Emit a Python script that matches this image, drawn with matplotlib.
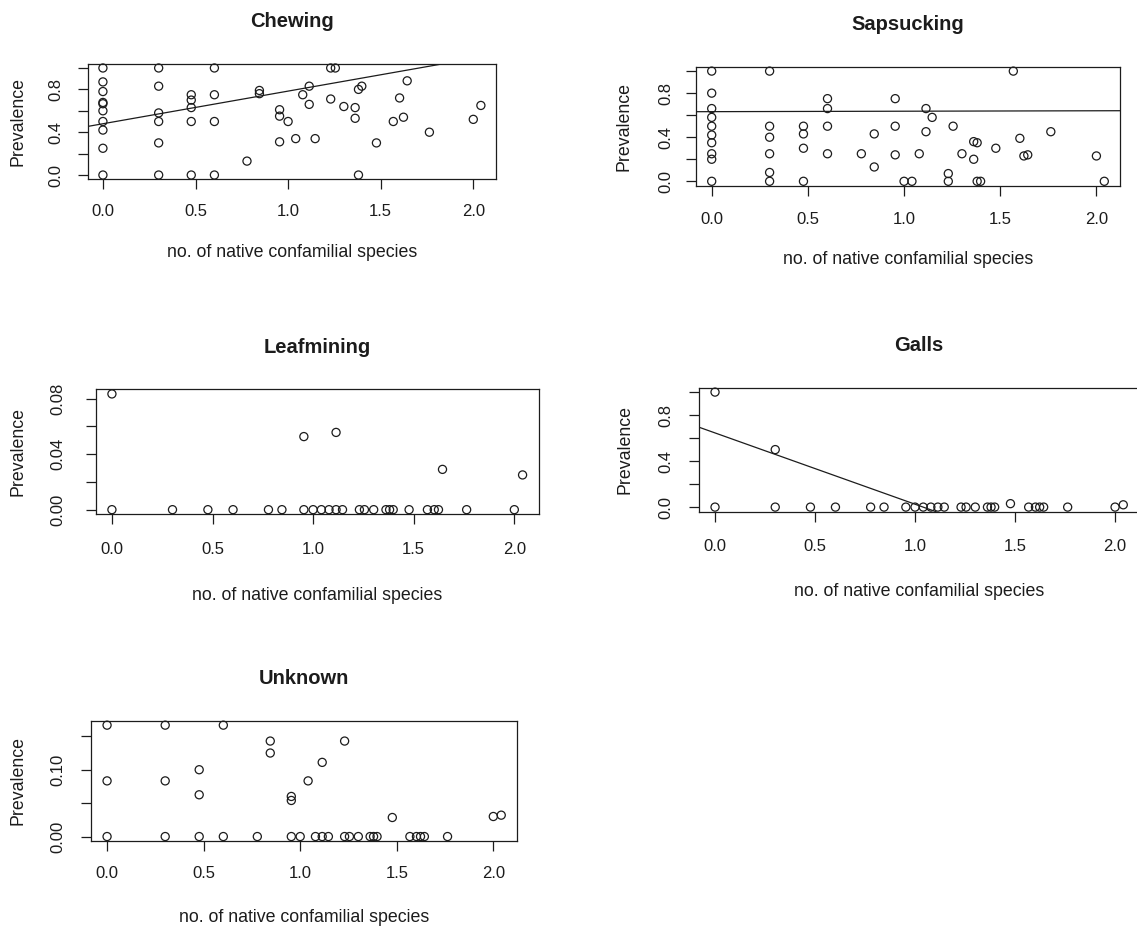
import matplotlib
matplotlib.use('Agg')
import matplotlib.pyplot as plt

plt.rcParams['font.family'] = ['Liberation Sans', 'DejaVu Sans']

W, H = 1137, 927

# ---------------- data ----------------
chew_x = [0, 0, 0, 0, 0, 0, 0, 0, 0, 0,
          0.301, 0.301, 0.301, 0.301, 0.301, 0.301,
          0.477, 0.477, 0.477, 0.477, 0.477,
          0.602, 0.602, 0.602, 0.602,
          0.778, 0.845, 0.845, 0.954, 0.954, 0.954, 1.0, 1.041, 1.079,
          1.114, 1.114, 1.146, 1.230, 1.230, 1.255, 1.301, 1.362, 1.362,
          1.380, 1.380, 1.398, 1.477, 1.568, 1.602, 1.623, 1.643, 1.763,
          2.0, 2.041]
chew_y = [1.0, 0.87, 0.78, 0.678, 0.666, 0.60, 0.50, 0.42, 0.25, 0.0,
          1.0, 0.83, 0.58, 0.50, 0.30, 0.0,
          0.75, 0.70, 0.63, 0.50, 0.0,
          1.0, 0.75, 0.50, 0.0,
          0.13, 0.79, 0.76, 0.61, 0.55, 0.31, 0.50, 0.34, 0.75,
          0.83, 0.66, 0.34, 1.0, 0.71, 1.0, 0.64, 0.63, 0.53,
          0.80, 0.0, 0.83, 0.30, 0.50, 0.72, 0.54, 0.88, 0.40,
          0.52, 0.65]
chew_line = (0.479, 0.305)   # intercept, slope

sap_x = [0, 0, 0, 0, 0, 0, 0, 0, 0, 0,
         0.301, 0.301, 0.301, 0.301, 0.301, 0.301,
         0.477, 0.477, 0.477, 0.477,
         0.602, 0.602, 0.602, 0.602,
         0.778, 0.845, 0.845, 0.954, 0.954, 0.954, 1.0, 1.041, 1.079,
         1.114, 1.114, 1.146, 1.230, 1.230, 1.255, 1.301, 1.362, 1.362,
         1.380, 1.380, 1.398, 1.477, 1.568, 1.602, 1.623, 1.643, 1.763,
         2.0, 2.041]
sap_y = [1.0, 0.80, 0.66, 0.58, 0.50, 0.42, 0.35, 0.25, 0.20, 0.0,
         1.0, 0.50, 0.40, 0.25, 0.08, 0.0,
         0.50, 0.43, 0.30, 0.0,
         0.75, 0.66, 0.50, 0.25,
         0.25, 0.43, 0.13, 0.75, 0.50, 0.24, 0.0, 0.0, 0.25,
         0.66, 0.45, 0.58, 0.07, 0.0, 0.50, 0.25, 0.36, 0.20,
         0.35, 0.0, 0.0, 0.30, 1.0, 0.39, 0.23, 0.24, 0.45,
         0.23, 0.0]
sap_line = (0.632, 0.004)

leaf_x = [0, 0, 0.301, 0.477, 0.602, 0.778, 0.845, 0.954, 0.954, 1.0,
          1.041, 1.079, 1.114, 1.114, 1.146, 1.230, 1.255, 1.301, 1.362,
          1.380, 1.398, 1.477, 1.568, 1.602, 1.623, 1.643, 1.763, 2.0, 2.041]
leaf_y = [0.0833, 0, 0, 0, 0, 0, 0, 0.0526, 0, 0,
          0, 0, 0.0556, 0, 0, 0, 0, 0, 0,
          0, 0, 0, 0, 0, 0, 0.029, 0, 0, 0.025]

gall_x = [0, 0, 0.301, 0.301, 0.477, 0.602, 0.778, 0.845, 0.954, 1.0,
          1.041, 1.079, 1.114, 1.146, 1.230, 1.255, 1.301, 1.362, 1.380,
          1.398, 1.477, 1.568, 1.602, 1.623, 1.643, 1.763, 2.0, 2.041]
gall_y = [1.0, 0, 0.50, 0, 0, 0, 0, 0, 0, 0,
          0, 0, 0, 0, 0, 0, 0, 0, 0,
          0, 0.03, 0, 0, 0, 0, 0, 0, 0.02]
gall_line = (0.645, -0.62)

unk_x = [0, 0, 0, 0.301, 0.301, 0.301, 0.477, 0.477, 0.477, 0.602, 0.602,
         0.778, 0.845, 0.845, 0.954, 0.954, 0.954, 1.0, 1.041, 1.079,
         1.114, 1.114, 1.146, 1.230, 1.230, 1.255, 1.301, 1.362, 1.380,
         1.398, 1.477, 1.568, 1.602, 1.623, 1.643, 1.763, 2.0, 2.041]
unk_y = [0.1667, 0.0833, 0, 0.1667, 0.0833, 0, 0.10, 0.0625, 0, 0.1667, 0,
         0, 0.1429, 0.125, 0.060, 0.054, 0, 0, 0.0833, 0,
         0.111, 0, 0, 0.1429, 0, 0, 0, 0, 0,
         0, 0.0285, 0, 0, 0, 0, 0, 0.030, 0.032]

titles = ['Chewing', 'Sapsucking', 'Leafmining', 'Galls', 'Unknown']
xlab = 'no. of native confamilial species'
ylab = 'Prevalence'
xticks = [0.0, 0.5, 1.0, 1.5, 2.0]
xtick_labels = ['0.0', '0.5', '1.0', '1.5', '2.0']
yticks_prop = [0.0, 0.2, 0.4, 0.6, 0.8, 1.0]
yticks_prop_labels = ['0.0', '', '0.4', '', '0.8', '']
yticks_leaf = [0.0, 0.02, 0.04, 0.06, 0.08]
yticks_leaf_labels = ['0.00', '', '0.04', '', '0.08']
yticks_unk = [0.0, 0.05, 0.10, 0.15]
yticks_unk_labels = ['0.00', '', '0.10', '']

# layout in pixels: box left, right, top, bottom; ytick label dist, ylabel dist,
# xtick label dist, xlabel dist
layout = [
    (87.8, 496.0, 63.7, 179.3, 32, 70, 32, 73),
    (696.0, 1120.0, 66.7, 185.7, 30, 72, 34, 74),
    (95.5, 539.0, 389.3, 514.3, 38, 77, 35, 81),
    (698.7, 1139.6, 387.5, 511.7, 33, 74, 35, 80),
    (91.3, 517.0, 720.7, 841.0, 33, 73, 32, 76),
]

panels = [
    (chew_x, chew_y, chew_line, yticks_prop, yticks_prop_labels),
    (sap_x, sap_y, sap_line, yticks_prop, yticks_prop_labels),
    (leaf_x, leaf_y, None, yticks_leaf, yticks_leaf_labels),
    (gall_x, gall_y, gall_line, yticks_prop, yticks_prop_labels),
    (unk_x, unk_y, None, yticks_unk, yticks_unk_labels),
]

INK = '#1c1c1c'
fig = plt.figure(figsize=(W / 100, H / 100), dpi=100)
fig.patch.set_facecolor('white')

TICK_PX = 10
for (xs, ys, line, yt, ytl), lay, title in zip(panels, layout, titles):
    l, r, t, b, dyl, dylab, dxl, dxlab = lay
    ax = fig.add_axes([l / W, 1 - b / H, (r - l) / W, (b - t) / H])
    # R-style 4% axis extension
    xmin, xmax = min(xs), max(xs)
    ymin, ymax = min(ys), max(ys)
    ex = (xmax - xmin) * 0.04
    ey = (ymax - ymin) * 0.04
    ax.set_xlim(xmin - ex, xmax + ex)
    ax.set_ylim(ymin - ey, ymax + ey)
    ax.scatter(xs, ys, s=34, facecolors='none', edgecolors=INK,
               linewidths=0.9, zorder=3, clip_on=False)
    if line is not None:
        ax.axline((0, line[0]), slope=line[1], color=INK, lw=0.9, zorder=2)
    for sp in ax.spines.values():
        sp.set_color(INK)
        sp.set_linewidth(0.9)
    ax.set_xticks(xticks)
    ax.set_xticklabels(xtick_labels)
    ax.set_yticks(yt)
    ax.set_yticklabels(ytl)
    ax.tick_params(axis='x', length=TICK_PX * 0.72, width=0.9, color=INK,
                   labelsize=12, labelcolor=INK, pad=(dxl - TICK_PX) * 0.72)
    ax.tick_params(axis='y', length=TICK_PX * 0.72, width=0.9, color=INK,
                   labelsize=12, labelcolor=INK, pad=(dyl - TICK_PX) * 0.72,
                   labelrotation=90)
    for lbl in ax.get_xticklabels():
        lbl.set_va('center')
    for lbl in ax.get_yticklabels():
        lbl.set_ha('center')
        lbl.set_va('center')
    cx = (l + min(r, W)) / 2 if r <= W else (l + r) / 2
    fig.text(((l + r) / 2) / W, 1 - (t - 42) / H, title, ha='center',
             va='center', fontsize=14.5, fontweight='bold', color=INK)
    fig.text(((l + r) / 2) / W, 1 - (b + dxlab) / H, xlab, ha='center',
             va='center', fontsize=12.8, color=INK)
    fig.text((l - dylab) / W, 1 - ((t + b) / 2) / H, ylab, ha='center',
             va='center', rotation=90, fontsize=12.8, color=INK)

fig.savefig('out.png', dpi=100, facecolor='white')
